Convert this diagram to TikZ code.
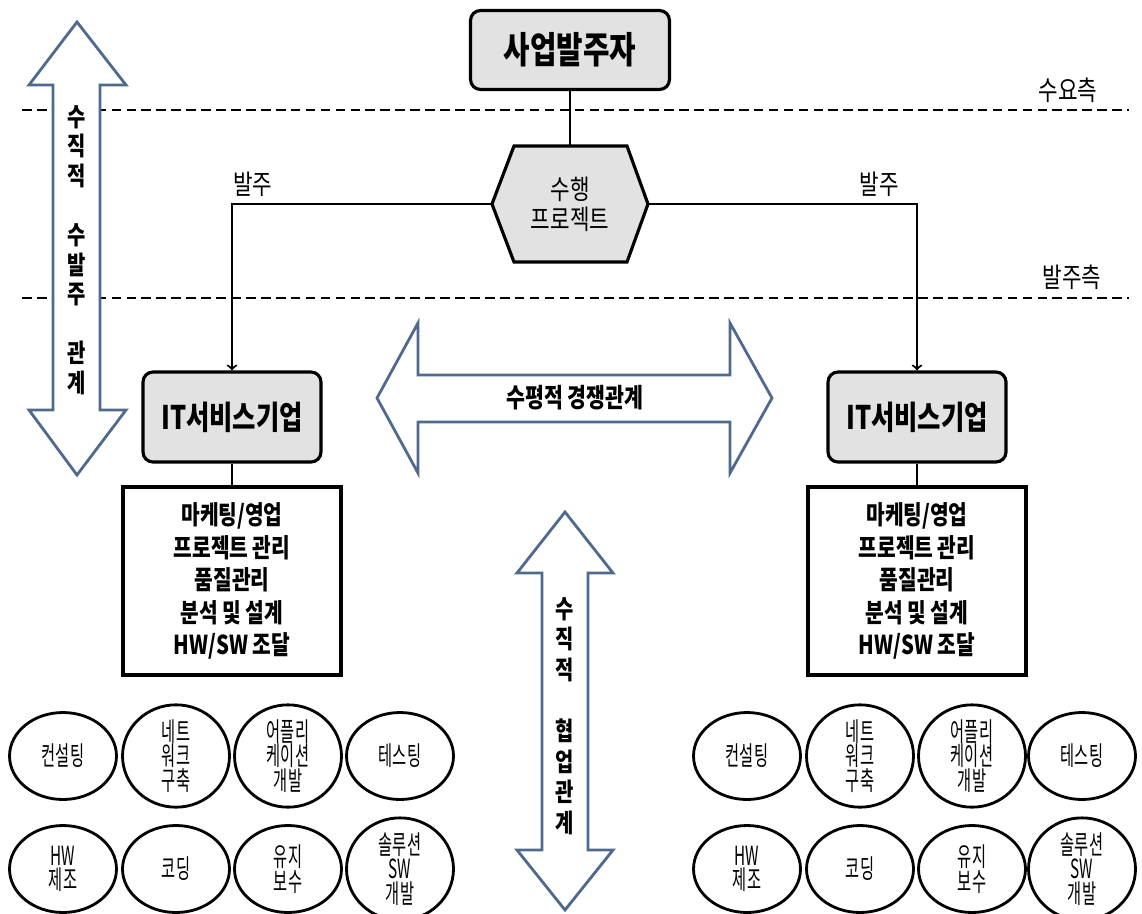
\documentclass[tikz,border=0pt]{standalone}
\usepackage{fontspec}
\setmainfont{Noto Sans CJK KR}[FakeStretch=0.78]
\newfontfamily\slimfont{Noto Sans CJK KR}[FakeStretch=0.58]
\usepackage{tikz}
\usetikzlibrary{shapes.geometric}
\definecolor{arrowblue}{RGB}{79,105,143}
\definecolor{boxgray}{RGB}{226,226,226}

\begin{document}
\begin{tikzpicture}[x=0.02cm, y=-0.02cm, color=black,
  graybox/.style={draw, rectangle, rounded corners=0.2cm, fill=boxgray, line width=1.8pt},
  taskbox/.style={draw, rectangle, line width=1.8pt, minimum width=4.36cm, minimum height=3.76cm, align=center, font=\bfseries\fontsize{14.8}{18.5}\selectfont},
  job/.style={draw, ellipse, line width=1.6pt, minimum width=2.14cm, minimum height=1.74cm, inner sep=0pt, align=center, font=\slimfont\fontsize{15}{13.8}\selectfont},
  divider/.style={line width=1.6pt, dash pattern=on 5.5pt off 3pt},
  bigarrow/.style={draw=arrowblue, fill=white, line width=1.6pt, line join=miter},
  link/.style={line width=1.2pt},
  tag/.style={font=\fontsize{15.5}{18}\selectfont},
  vtext/.style={align=center, font=\bfseries\fontsize{14.5}{16.8}\selectfont}]
\useasboundingbox (0,0) rectangle (1142,913);

% demand / order side
\draw[divider] (22,110) -- (1129,110);
\draw[divider] (22,298) -- (1129,298);
\node[tag] (demand) at (1068,90) {수요측};
\node[tag] (orderer) at (1072,277) {발주측};

% big arrows
\draw[bigarrow] (77,22) -- (126,85) -- (100,85) -- (100,410) -- (126,410) -- (77,475)
  -- (29,410) -- (53,410) -- (53,85) -- (29,85) -- cycle;
\draw[bigarrow] (377,398) -- (418,323) -- (418,375) -- (730,375) -- (730,323) -- (772,398)
  -- (730,473) -- (730,422) -- (418,422) -- (418,473) -- cycle;
\draw[bigarrow] (565,512) -- (613,573) -- (588,573) -- (588,850) -- (613,850) -- (565,910)
  -- (517,850) -- (542,850) -- (542,573) -- (517,573) -- cycle;
\node[vtext] (vorder) at (77,250) {수\\직\\적\\\mbox{}\\수\\발\\주\\\mbox{}\\관\\계};
\node[vtext, font=\bfseries\fontsize{14.5}{17.4}\selectfont] (vcoop) at (565,716) {수\\직\\적\\\mbox{}\\협\\업\\관\\계};
\node[font=\bfseries\fontsize{15}{18}\selectfont] (rival) at (575,398) {수평적 경쟁관계};

% top part
\node[graybox, minimum width=3.98cm, minimum height=1.58cm, font=\bfseries\fontsize{21}{25}\selectfont] (client) at (570,50) {사업발주자};
\draw[fill=boxgray, line width=1.8pt, line join=miter] (492,204) -- (514,146) -- (627,146) -- (648,204) -- (627,262) -- (514,262) -- cycle;
\node[minimum width=3.12cm, minimum height=2.32cm, align=center, font=\fontsize{15.5}{17}\selectfont] (proj) at (570,204) {수행\\프로젝트};

\node[graybox, minimum width=3.56cm, minimum height=1.8cm, font=\bfseries\fontsize{18.5}{22}\selectfont] (itL) at (232,417) {IT서비스기업};
\node[graybox, minimum width=3.56cm, minimum height=1.8cm, font=\bfseries\fontsize{18.5}{22}\selectfont] (itR) at (917,417) {IT서비스기업};

\node[taskbox] (taskL) at (232,581) {마케팅/영업\\프로젝트 관리\\품질관리\\분석 및 설계\\HW/SW 조달};
\node[taskbox] (taskR) at (917,581) {마케팅/영업\\프로젝트 관리\\품질관리\\분석 및 설계\\HW/SW 조달};

% connectors
\draw[link] (client) -- (proj);
\draw[link, ->] (proj.west) -| node[tag, pos=0.46, above] {발주} (itL);
\draw[link, ->] (proj.east) -| node[tag, pos=0.43, above] {발주} (itR);
\draw[link] (itL) -- (taskL);
\draw[link] (itR) -- (taskR);

% service fields, left
\node[job] (l1) at (63,756) {컨설팅};
\node[job] (l2) at (176,756) {네트\\워크\\구축};
\node[job] (l3) at (288,756) {어플리\\케이션\\개발};
\node[job] (l4) at (400,756) {테스팅};
\node[job] (l5) at (63,869) {HW\\제조};
\node[job] (l6) at (176,869) {코딩};
\node[job] (l7) at (288,869) {유지\\보수};
\node[job] (l8) at (400,869) {솔루션\\SW\\개발};

% service fields, right
\node[job] (r1) at (747,756) {컨설팅};
\node[job] (r2) at (860,756) {네트\\워크\\구축};
\node[job] (r3) at (972,756) {어플리\\케이션\\개발};
\node[job] (r4) at (1082,756) {테스팅};
\node[job] (r5) at (747,869) {HW\\제조};
\node[job] (r6) at (860,869) {코딩};
\node[job] (r7) at (972,869) {유지\\보수};
\node[job] (r8) at (1082,869) {솔루션\\SW\\개발};

\end{tikzpicture}
\end{document}
